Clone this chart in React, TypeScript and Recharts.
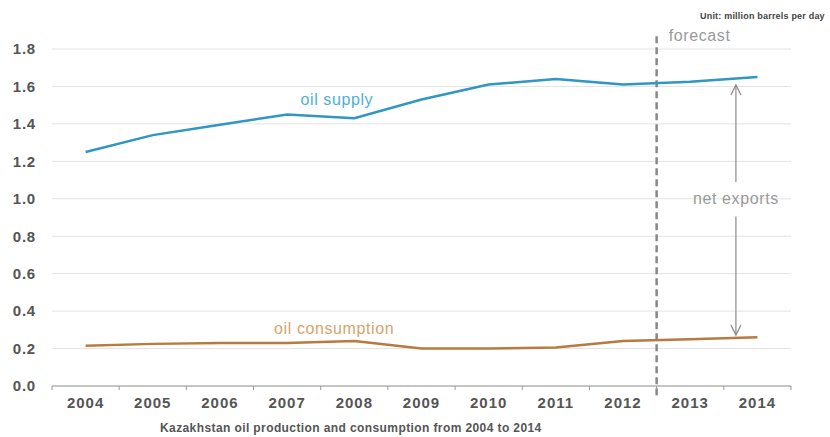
import React from 'react';
import { LineChart, Line, XAxis, YAxis, CartesianGrid, ReferenceLine, ReferenceDot } from 'recharts';

const years = [2004, 2005, 2006, 2007, 2008, 2009, 2010, 2011, 2012, 2013, 2014];
const oilSupply = [1.25, 1.34, 1.395, 1.45, 1.43, 1.53, 1.61, 1.64, 1.61, 1.625, 1.65];
const oilConsumption = [0.215, 0.225, 0.23, 0.23, 0.24, 0.2, 0.2, 0.205, 0.24, 0.25, 0.26];
const yTicks = [0, 0.2, 0.4, 0.6, 0.8, 1.0, 1.2, 1.4, 1.6, 1.8];

const data = years.map((y, i) => ({ year: y, supply: oilSupply[i], consumption: oilConsumption[i] }));

const FONT = '"Liberation Sans", Arial, sans-serif';
const W = 830;
const H = 437;
const MARGIN = { top: 49, right: 39, bottom: 21, left: 8 };
const Y_W = 44;
const HALF_STEP = (W - MARGIN.left - Y_W - MARGIN.right) / years.length / 2;

const XTick = (props: any) => {
  const { x, y, payload } = props;
  const axisY = y - 8;
  const isLast = payload.value === years[years.length - 1];
  return (
    <g>
      <line x1={x - HALF_STEP} y1={axisY} x2={x - HALF_STEP} y2={axisY + 4} stroke="#999" strokeWidth={1} />
      {isLast && <line x1={x + HALF_STEP} y1={axisY} x2={x + HALF_STEP} y2={axisY + 4} stroke="#999" strokeWidth={1} />}
      <text x={x} y={axisY + 22} textAnchor="middle" fill="#555" fontSize={15} fontWeight="bold" fontFamily={FONT} letterSpacing={1}>
        {payload.value}
      </text>
    </g>
  );
};

const ArrowShape = (props: any) => {
  const { x1, y1, x2, y2 } = props;
  const dx = x2 - x1;
  const dy = y2 - y1;
  const len = Math.sqrt(dx * dx + dy * dy) || 1;
  const ux = dx / len;
  const uy = dy / len;
  const px = -uy;
  const py = ux;
  const hb = 10;
  const hw = 5;
  return (
    <g stroke="#8a8a8a" strokeWidth={1.2} fill="none">
      <line x1={x1} y1={y1} x2={x2} y2={y2} />
      <polyline
        points={`${x2 - ux * hb + px * hw},${y2 - uy * hb + py * hw} ${x2},${y2} ${x2 - ux * hb - px * hw},${y2 - uy * hb - py * hw}`}
      />
    </g>
  );
};

const ARROW_X = 2013.68;
const annot = { fontSize: 16, fontFamily: FONT, letterSpacing: 0.6 };

export default function App() {
  return (
    <div style={{ position: 'absolute', left: 0, top: 0, width: W, height: H, background: '#fff', fontFamily: FONT }}>
      <LineChart width={W} height={H} data={data} margin={MARGIN}>
        <CartesianGrid vertical={false} stroke="#e3e3e3" strokeWidth={1} />
        <XAxis
          dataKey="year"
          type="number"
          domain={[2003.5, 2014.5]}
          ticks={years}
          tick={<XTick />}
          tickLine={false}
          axisLine={{ stroke: '#999', strokeWidth: 1.2 }}
          height={30}
          interval={0}
        />
        <YAxis
          domain={[0, 1.8]}
          ticks={yTicks}
          width={Y_W}
          axisLine={false}
          tickLine={false}
          tickFormatter={(v: number) => v.toFixed(1)}
          tick={{ fill: '#555', fontSize: 15, fontWeight: 'bold', fontFamily: FONT, letterSpacing: 0.8 }}
          tickMargin={10}
        />
        <ReferenceLine
          segment={[{ x: 2012.5, y: -0.05 }, { x: 2012.5, y: 1.88 }]}
          stroke="#888"
          strokeWidth={2.5}
          strokeDasharray="7 4"
          ifOverflow="visible"
        />
        <ReferenceLine segment={[{ x: ARROW_X, y: 1.09 }, { x: ARROW_X, y: 1.608 }]} ifOverflow="visible" shape={ArrowShape} />
        <ReferenceLine segment={[{ x: ARROW_X, y: 0.905 }, { x: ARROW_X, y: 0.272 }]} ifOverflow="visible" shape={ArrowShape} />
        <Line type="linear" dataKey="supply" stroke="#2f97c1" strokeWidth={2.5} dot={false} isAnimationActive={false} />
        <Line type="linear" dataKey="consumption" stroke="#b87a3e" strokeWidth={2.5} dot={false} isAnimationActive={false} />
        <ReferenceDot
          x={ARROW_X}
          y={1.0}
          r={0}
          fill="none"
          stroke="none"
          ifOverflow="visible"
          label={{ value: 'net exports', position: 'center', fill: '#9a9a9a', ...annot }}
        />
        <ReferenceDot
          x={2007.74}
          y={1.533}
          r={0}
          fill="none"
          stroke="none"
          ifOverflow="visible"
          label={{ value: 'oil supply', position: 'center', fill: '#4fb0da', ...annot }}
        />
        <ReferenceDot
          x={2007.7}
          y={0.31}
          r={0}
          fill="none"
          stroke="none"
          ifOverflow="visible"
          label={{ value: 'oil consumption', position: 'center', fill: '#d6a46c', ...annot }}
        />
        <ReferenceDot
          x={2013.14}
          y={1.875}
          r={0}
          fill="none"
          stroke="none"
          ifOverflow="visible"
          label={{ value: 'forecast', position: 'center', fill: '#9a9a9a', ...annot }}
        />
      </LineChart>
      <div style={{ position: 'absolute', left: 700, top: 11, fontSize: 9, fontWeight: 'bold', color: '#444', whiteSpace: 'nowrap', letterSpacing: 0.2 }}>
        Unit: million barrels per day
      </div>
      <div style={{ position: 'absolute', left: 160, top: 421, fontSize: 12, fontWeight: 'bold', color: '#555', whiteSpace: 'nowrap', letterSpacing: 0.4 }}>
        Kazakhstan oil production and consumption from 2004 to 2014
      </div>
    </div>
  );
}
